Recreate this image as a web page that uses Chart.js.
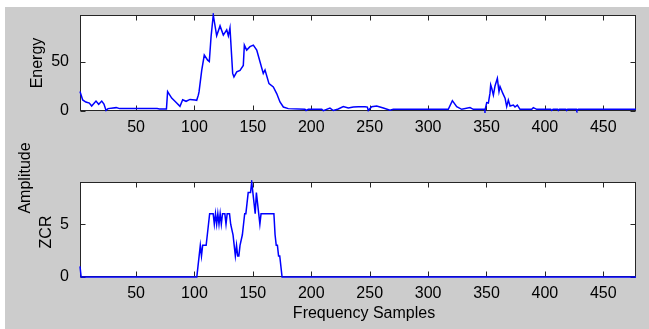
<!DOCTYPE html>
<html><head><meta charset="utf-8">
<script src="https://cdn.jsdelivr.net/npm/chart.js@4.4.1/dist/chart.umd.min.js"></script>
<style>
html,body{margin:0;padding:0;background:#fff;}
#wrap{position:relative;width:649px;height:329px;overflow:hidden;}
#bg{position:absolute;left:5px;top:7px;right:0;bottom:0;background:#cccccc;}
canvas{position:absolute;left:0;top:0;}
</style></head><body>
<div id="wrap"><div id="bg"></div>
<canvas id="c1" width="649" height="329"></canvas>
<canvas id="c2" width="649" height="329"></canvas>
</div>
<script>
// ---- data ----
const sampleRange = [2, 478];
const xTickValues = [50, 100, 150, 200, 250, 300, 350, 400, 450];
const energyTickValues = [0, 50];
const zcrTickValues = [0, 5];

const energyX = [2, 4.3, 7, 10, 12, 15.7, 18, 20.6, 22.5, 24.3, 26, 33, 36, 68, 70, 76, 77, 80.5, 83.3, 87.6, 89.9, 92.8, 96.2, 100.5, 101.9, 103.3, 103.9, 106.2, 108.4, 111.3, 112.7, 114.2, 116.1, 119, 121.9, 124.7, 127.6, 129, 130.4, 132.7, 133.8, 136.2, 139, 141.8, 142.7, 144.7, 147.5, 150.4, 153.3, 156.1, 158.9, 160.4, 163.8, 167.5, 170.4, 173.2, 176.1, 180.3, 194.6, 195.5, 197.5, 209, 210.3, 216, 218.9, 223.1, 227.4, 231.7, 236, 240.3, 246, 248, 248.8, 251.7, 256, 261.7, 267.4, 270.2, 317.3, 320.8, 324.5, 328.8, 335.9, 338.7, 348.1, 348.7, 350.2, 351.6, 353, 353.6, 354.5, 355.9, 357.3, 359.3, 360.7, 361.6, 363.9, 365.9, 367.3, 368.7, 370.2, 373, 374.4, 376.4, 378.7, 388.7, 390.1, 393, 405, 405.9, 407, 411, 411.5, 412.5, 418, 418.7, 419.5, 427, 427.3, 428.5, 478];
const energyY = [19.6, 11.2, 9, 8, 5, 10, 6.8, 10, 7, 0.6, 2.4, 3.4, 2.4, 2.4, 2, 2, 19.5, 13, 9.8, 4.7, 11.3, 9.8, 11.7, 11, 10.8, 16, 19.3, 41, 56.5, 51.4, 50, 75, 97, 76, 86, 76.7, 82, 76, 84, 38, 34.5, 39.5, 41, 46, 66.6, 61.5, 65, 66.6, 61.5, 49.7, 38, 41.5, 27.7, 24.3, 17.6, 9.1, 4, 2.4, 1.7, 0.5, 1.7, 1.7, 0.3, 3, 0.5, 2, 4.4, 3, 4, 4.4, 4.4, 4, 0.5, 4.4, 5, 3, 0.8, 1.7, 1.7, 10.5, 4.4, 1.7, 3.4, 1.7, 1.7, 0.5, 8.5, 8, 18, 26.4, 23, 16, 25.3, 33, 19.6, 24.7, 18, 13, 4.4, 11, 5, 6, 4, 6, 1.7, 1.7, 3.4, 1.7, 1.7, 0.5, 1.7, 1.7, 0.5, 1.7, 1.7, 0.5, 1.7, 1.7, 0.5, 1.7, 1.7];

const zcrX = [2, 3, 102, 103, 104, 105, 106, 107, 110, 111, 112, 113, 116, 117, 118, 119, 120, 121, 122, 123, 124, 126, 127, 128, 130, 131, 133, 134, 135, 136, 137, 138, 139, 141, 142, 143, 144, 145, 146, 148, 149, 150, 151, 152, 153, 154, 155, 156, 157, 168, 169, 170, 171, 172, 173, 175, 478];
const zcrY = [1, 0, 0, 1, 2, 3, 2, 3, 3, 4, 5, 6, 6, 5, 6, 5, 6, 5, 6, 5, 6, 6, 5, 6, 6, 5, 4, 3, 2, 3, 2, 2, 3, 4, 5, 6, 6, 7, 8, 8, 9, 8, 7, 6, 8, 7, 6, 5, 6, 6, 4, 3, 3, 2, 2, 0, 0];

const energyLabel = 'Energy';
const zcrLabels = ['Amplitude', 'ZCR'];
const xLabel = 'Frequency Samples';

// ---- drawing ----
const FONT = {family: "'Liberation Sans', Arial, Helvetica, sans-serif", size: 16, lineHeight: 1.2};
const FONT_CSS = "16px 'Liberation Sans', Arial, Helvetica, sans-serif";

const boxPlugin = {
  id: 'box',
  beforeDraw(chart) {
    const {ctx, chartArea: a} = chart;
    ctx.save();
    ctx.fillStyle = '#ffffff';
    ctx.fillRect(a.left, a.top, a.right - a.left, a.bottom - a.top);
    ctx.restore();
  },
  beforeDatasetsDraw(chart) {
    const {ctx, chartArea: a, scales} = chart;
    ctx.save();
    ctx.strokeStyle = '#262626';
    ctx.lineWidth = 1;
    const L = a.left + 0.5, R = a.right - 0.5, T = a.top + 0.5, B = a.bottom - 0.5;
    ctx.strokeRect(L, T, R - L, B - T);
    const tl = 5;
    ctx.beginPath();
    scales.x.ticks.forEach(t => {
      const px = Math.round(scales.x.getPixelForValue(t.value)) + 0.5;
      ctx.moveTo(px, T); ctx.lineTo(px, T + tl);
      ctx.moveTo(px, B); ctx.lineTo(px, B - tl);
    });
    scales.y.ticks.forEach(t => {
      const py = Math.round(scales.y.getPixelForValue(t.value)) + 0.5;
      ctx.moveTo(L, py); ctx.lineTo(L + tl, py);
      ctx.moveTo(R, py); ctx.lineTo(R - tl, py);
    });
    ctx.stroke();
    ctx.restore();
  },
  afterDraw(chart) {
    const items = chart.options.plugins.box.texts || [];
    const ctx = chart.ctx;
    ctx.save();
    ctx.fillStyle = '#000';
    ctx.font = FONT_CSS;
    ctx.textAlign = 'center';
    ctx.textBaseline = 'alphabetic';
    items.forEach(it => {
      ctx.save();
      ctx.translate(it.x, it.y);
      if (it.rot) ctx.rotate(-Math.PI / 2);
      ctx.fillText(it.text, 0, 0);
      ctx.restore();
    });
    ctx.restore();
  }
};

function makeChart(id, xs, ys, yTicks, yMax, pad, texts) {
  return new Chart(document.getElementById(id), {
    type: 'line',
    data: {datasets: [{
      data: xs.map((x, i) => ({x: x, y: ys[i]})),
      borderColor: '#0000ff', borderWidth: 1.5, pointRadius: 0, tension: 0, fill: false, clip: 2
    }]},
    options: {
      responsive: false, animation: false, events: [],
      layout: {padding: pad},
      plugins: {legend: {display: false}, tooltip: {enabled: false}, box: {texts: texts}},
      scales: {
        x: {
          type: 'linear', min: sampleRange[0], max: sampleRange[1],
          grid: {display: false}, border: {display: false},
          afterBuildTicks: s => { s.ticks = xTickValues.map(v => ({value: v})); },
          afterFit: s => { s.height = 40; },
          ticks: {font: FONT, color: '#000', padding: -1, maxRotation: 0, autoSkip: false}
        },
        y: {
          type: 'linear', min: 0, max: yMax,
          grid: {display: false}, border: {display: false},
          afterBuildTicks: s => { s.ticks = yTicks.map(v => ({value: v})); },
          afterFit: s => { s.width = 40; },
          ticks: {font: FONT, color: '#000', padding: 3, autoSkip: false}
        }
      }
    },
    plugins: [boxPlugin]
  });
}

makeChart('c1', energyX, energyY, energyTickValues, Math.max(...energyY),
  {left: 40, top: 15, right: 13, bottom: 178},
  [{text: energyLabel, x: 41.5, y: 63, rot: true}]);

makeChart('c2', zcrX, zcrY, zcrTickValues, Math.max(...zcrY),
  {left: 40, top: 182, right: 13, bottom: 12},
  [{text: zcrLabels[0], x: 30, y: 178, rot: true},
   {text: zcrLabels[1], x: 50.5, y: 232, rot: true},
   {text: xLabel, x: 364, y: 318, rot: false}]);
</script>
</body></html>
